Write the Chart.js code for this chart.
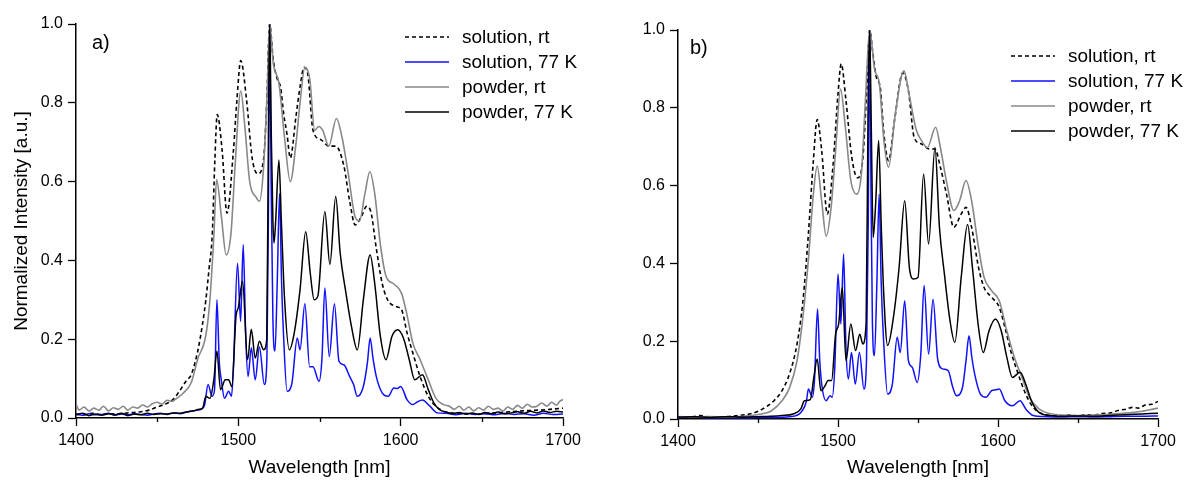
<!DOCTYPE html>
<html>
<head>
<meta charset="utf-8">
<script src="https://cdn.jsdelivr.net/npm/chart.js"></script>
<style>
  body { margin: 0; background: #fff; }
  .row { display: flex; width: 1195px; height: 483px; }
  .box { position: relative; height: 483px; }
</style>
</head>
<body>
<div class="row">
  <div class="box" style="width:597px"><canvas id="chartA"></canvas></div>
  <div class="box" style="width:598px"><canvas id="chartB"></canvas></div>
</div>

<script>
// legend labels
const seriesNames = ['solution, rt', 'solution, 77 K', 'powder, rt', 'powder, 77 K'];
const xTicks = [1400, 1500, 1600, 1700];
const xMinorTicks = [1450, 1550, 1650];
const yTicks = [0, 0.2, 0.4, 0.6, 0.8, 1.0];

// panel a) -- [wavelength nm, normalized intensity]
const aSolutionRt = [[1400,0.01],[1405,0.008],[1410,0.012],[1415,0.009],[1420,0.011],[1425,0.01],[1430,0.012],[1435,0.014],[1440,0.016],[1445,0.02],[1450,0.028],[1455,0.035],[1460,0.048],[1464,0.07],[1468,0.095],[1471,0.11],[1475,0.17],[1478,0.24],[1480,0.30],[1482,0.38],[1484,0.47],[1485.5,0.65],[1487,0.77],[1490,0.68],[1493,0.52],[1497,0.68],[1499,0.80],[1501.5,0.907],[1505,0.81],[1508.5,0.66],[1512,0.62],[1515.5,0.655],[1517.5,0.8],[1519.3,1.0],[1521.5,0.91],[1524,0.86],[1526,0.84],[1528,0.77],[1530,0.72],[1532,0.66],[1535.5,0.765],[1538,0.84],[1540.5,0.89],[1542.7,0.875],[1546,0.73],[1551,0.706],[1555.7,0.69],[1560,0.69],[1565,0.64],[1568.6,0.55],[1572,0.49],[1575.7,0.51],[1579,0.537],[1581.6,0.524],[1585,0.43],[1588.7,0.34],[1592,0.30],[1597,0.283],[1600.5,0.275],[1604,0.215],[1607.5,0.165],[1612,0.105],[1617,0.055],[1621.7,0.03],[1628,0.015],[1635,0.012],[1645,0.01],[1655,0.012],[1665,0.015],[1675,0.018],[1685,0.02],[1692,0.022],[1700,0.025]];
const aSolution77K = [[1400,0.01],[1404,0.007],[1408,0.011],[1412,0.008],[1416,0.009],[1420,0.012],[1424,0.007],[1428,0.01],[1432,0.008],[1436,0.011],[1440,0.009],[1444,0.007],[1448,0.01],[1452,0.012],[1456,0.009],[1460,0.013],[1464,0.011],[1468,0.015],[1472,0.018],[1475,0.02],[1479,0.03],[1481.4,0.085],[1483.7,0.055],[1485.3,0.07],[1486.8,0.30],[1488.3,0.14],[1489.5,0.097],[1491.5,0.05],[1494,0.068],[1495.8,0.055],[1497,0.13],[1499.5,0.393],[1501.4,0.245],[1503,0.44],[1504.6,0.2],[1506,0.105],[1508,0.178],[1510.4,0.097],[1513,0.18],[1516,0.085],[1517.6,0.15],[1518.5,0.5],[1519.3,1.0],[1520.2,0.6],[1521.3,0.25],[1522.6,0.17],[1524,0.35],[1525.4,0.57],[1526.6,0.35],[1527.8,0.215],[1530,0.068],[1533,0.088],[1536.3,0.203],[1538,0.173],[1541,0.29],[1543.9,0.13],[1546,0.13],[1549.7,0.093],[1551.5,0.15],[1553.3,0.33],[1556,0.156],[1559.2,0.29],[1562,0.144],[1565,0.135],[1568.6,0.105],[1571,0.085],[1573.3,0.055],[1577,0.08],[1579.5,0.14],[1581.2,0.203],[1583,0.15],[1585,0.105],[1588.7,0.063],[1592.3,0.055],[1595.8,0.076],[1598,0.075],[1600,0.08],[1604,0.046],[1607.5,0.034],[1610,0.04],[1613.4,0.046],[1618,0.03],[1622.7,0.013],[1628,0.012],[1634,0.008],[1640,0.012],[1646,0.009],[1652,0.011],[1658,0.008],[1664,0.012],[1670,0.009],[1676,0.011],[1682,0.007],[1688,0.012],[1694,0.009],[1700,0.01]];
const aPowderRt = [[1400,0.035],[1402,0.02],[1405,0.028],[1408,0.018],[1411,0.025],[1414,0.02],[1417,0.03],[1420,0.018],[1423,0.026],[1426,0.022],[1429,0.03],[1432,0.02],[1435,0.028],[1438,0.025],[1441,0.033],[1444,0.028],[1447,0.036],[1450,0.04],[1453,0.035],[1456,0.045],[1459,0.042],[1462,0.05],[1466,0.063],[1471,0.09],[1475,0.15],[1480,0.21],[1482.5,0.30],[1485,0.47],[1486.6,0.605],[1489.6,0.51],[1492.5,0.414],[1495.5,0.47],[1498,0.64],[1501.5,0.83],[1504,0.74],[1507,0.60],[1511,0.56],[1513,0.55],[1515.6,0.64],[1518,0.85],[1519.3,1.0],[1521.5,0.9],[1525,0.85],[1528.5,0.71],[1532,0.60],[1535.6,0.70],[1538,0.80],[1541,0.89],[1544,0.86],[1547,0.73],[1549.5,0.74],[1552,0.73],[1555.7,0.69],[1560.4,0.76],[1564,0.71],[1567.7,0.62],[1572,0.51],[1574.6,0.50],[1578,0.57],[1581,0.625],[1584,0.57],[1587.5,0.44],[1591,0.36],[1595.8,0.34],[1600.5,0.317],[1604,0.26],[1607.5,0.19],[1612,0.148],[1617,0.097],[1621.7,0.05],[1626.4,0.034],[1630,0.03],[1633,0.022],[1636,0.03],[1639,0.02],[1642,0.028],[1645,0.018],[1648,0.026],[1651,0.02],[1654,0.03],[1657,0.022],[1660,0.025],[1663,0.018],[1666,0.028],[1669,0.022],[1672,0.032],[1675,0.025],[1678,0.035],[1681,0.028],[1684,0.03],[1687,0.038],[1690,0.03],[1693,0.04],[1696,0.033],[1698,0.042],[1700,0.047]];
const aPowder77K = [[1400,0.008],[1404,0.012],[1408,0.006],[1412,0.01],[1416,0.007],[1420,0.011],[1424,0.008],[1428,0.012],[1432,0.006],[1436,0.01],[1440,0.008],[1444,0.012],[1448,0.009],[1452,0.011],[1456,0.01],[1460,0.013],[1464,0.012],[1468,0.015],[1472,0.018],[1476,0.022],[1478,0.025],[1480,0.055],[1482.5,0.05],[1485,0.1],[1486.8,0.17],[1489,0.072],[1492,0.097],[1494,0.097],[1496,0.08],[1498.6,0.26],[1500,0.28],[1502.6,0.347],[1505.7,0.148],[1508,0.225],[1510.4,0.152],[1513,0.195],[1515.6,0.173],[1517.5,0.2],[1518.6,0.75],[1519.3,1.0],[1520.3,0.72],[1521.3,0.5],[1522,0.444],[1523,0.5],[1525,0.655],[1526.5,0.5],[1528.5,0.30],[1531.4,0.173],[1534.4,0.215],[1538,0.325],[1541.5,0.473],[1544.3,0.368],[1546.7,0.30],[1549,0.31],[1553.3,0.524],[1556.4,0.39],[1560,0.562],[1562.7,0.42],[1566.3,0.317],[1569.8,0.23],[1573.3,0.173],[1577,0.30],[1581.2,0.414],[1584,0.342],[1587.5,0.207],[1591,0.148],[1594.6,0.207],[1598.2,0.224],[1601.7,0.203],[1605.3,0.148],[1608.7,0.097],[1613.4,0.11],[1617,0.072],[1620.5,0.038],[1624,0.021],[1628,0.015],[1632,0.011],[1636,0.014],[1640,0.01],[1644,0.013],[1648,0.009],[1652,0.014],[1656,0.011],[1660,0.015],[1664,0.01],[1668,0.013],[1672,0.016],[1676,0.012],[1680,0.017],[1684,0.013],[1688,0.018],[1692,0.014],[1696,0.017],[1700,0.015]];

// panel b)
const bSolutionRt = [[1400,0.005],[1410,0.006],[1414,0.009],[1420,0.005],[1430,0.006],[1440,0.01],[1446,0.014],[1453,0.026],[1460,0.047],[1465,0.073],[1469.7,0.116],[1474.4,0.193],[1478,0.30],[1481.5,0.476],[1484.6,0.664],[1487,0.77],[1489.8,0.69],[1493.3,0.527],[1496.8,0.647],[1500,0.835],[1502,0.913],[1505,0.818],[1508.6,0.673],[1512.2,0.62],[1515.3,0.66],[1518,0.85],[1519.8,1.0],[1521.6,0.947],[1524,0.878],[1526.4,0.853],[1528.7,0.733],[1531.6,0.664],[1535.3,0.767],[1540.5,0.89],[1544,0.844],[1547.6,0.724],[1552.3,0.707],[1557,0.694],[1560.6,0.694],[1564,0.647],[1567.7,0.58],[1572.4,0.493],[1577,0.527],[1580,0.544],[1583.5,0.493],[1587.8,0.39],[1591.3,0.338],[1596,0.313],[1600.8,0.287],[1604.3,0.236],[1607.9,0.176],[1612.6,0.116],[1617.3,0.064],[1622,0.03],[1628,0.013],[1635,0.009],[1640,0.008],[1645,0.01],[1650,0.008],[1655,0.011],[1660,0.01],[1665,0.014],[1670,0.015],[1675,0.022],[1680,0.025],[1684,0.03],[1688,0.028],[1692,0.036],[1696,0.038],[1700,0.045]];
const bSolution77K = [[1400,0.004],[1410,0.005],[1420,0.003],[1430,0.004],[1440,0.003],[1450,0.004],[1460,0.004],[1469.7,0.006],[1476.8,0.017],[1480.3,0.047],[1481.5,0.077],[1483.9,0.056],[1485.3,0.1],[1487.2,0.283],[1488.6,0.15],[1489.8,0.09],[1492.6,0.047],[1495,0.06],[1496.4,0.056],[1498,0.133],[1500,0.373],[1501.8,0.244],[1503.5,0.424],[1505,0.18],[1506.5,0.103],[1508.4,0.171],[1510.8,0.09],[1513.4,0.171],[1516.2,0.077],[1517.8,0.15],[1518.9,0.5],[1519.8,1.0],[1520.6,0.6],[1521.5,0.25],[1522.8,0.163],[1524.3,0.35],[1525.7,0.578],[1527,0.35],[1528.3,0.218],[1531,0.064],[1534,0.09],[1537,0.21],[1538.9,0.171],[1541.7,0.304],[1544,0.15],[1546.4,0.133],[1549.5,0.094],[1551.8,0.17],[1553.8,0.343],[1556.6,0.167],[1559.4,0.308],[1562.3,0.154],[1565.3,0.129],[1568.9,0.124],[1571.5,0.085],[1574,0.06],[1577.8,0.081],[1580,0.15],[1581.9,0.214],[1583.6,0.16],[1585.4,0.116],[1589,0.064],[1592.5,0.056],[1596,0.073],[1598.5,0.075],[1600.8,0.077],[1604.3,0.047],[1609,0.034],[1613.8,0.047],[1617.3,0.026],[1622,0.009],[1630,0.006],[1640,0.005],[1650,0.006],[1660,0.005],[1670,0.006],[1680,0.007],[1690,0.007],[1700,0.008]];
const bPowderRt = [[1400,0.006],[1410,0.005],[1420,0.006],[1430,0.005],[1440,0.007],[1446,0.009],[1452,0.013],[1458,0.02],[1465,0.047],[1469.7,0.08],[1474.4,0.15],[1478,0.26],[1481.5,0.41],[1484.6,0.578],[1487,0.65],[1489.8,0.56],[1492.6,0.47],[1495.7,0.544],[1498.5,0.69],[1501.6,0.848],[1504.6,0.75],[1508,0.613],[1511.7,0.578],[1514.6,0.63],[1516.9,0.8],[1519.8,1.0],[1522.8,0.9],[1525.9,0.86],[1528.7,0.715],[1531.6,0.647],[1535.8,0.784],[1541.2,0.895],[1544.8,0.827],[1548.8,0.745],[1552.3,0.715],[1555.9,0.698],[1561,0.75],[1564,0.698],[1567.7,0.613],[1572.4,0.536],[1576,0.561],[1580,0.613],[1583.5,0.561],[1587.8,0.441],[1591.3,0.364],[1596,0.33],[1600.8,0.304],[1605.5,0.227],[1610.2,0.159],[1615,0.107],[1619.7,0.056],[1625.6,0.026],[1632,0.014],[1640,0.01],[1650,0.009],[1660,0.01],[1670,0.012],[1680,0.015],[1690,0.02],[1695,0.024],[1700,0.028]];
const bPowder77K = [[1400,0.005],[1410,0.006],[1420,0.004],[1430,0.006],[1440,0.005],[1450,0.006],[1458,0.007],[1465,0.009],[1472,0.013],[1476.8,0.026],[1479,0.047],[1482.7,0.05],[1485,0.11],[1487,0.154],[1489.3,0.073],[1492,0.086],[1493.8,0.099],[1496,0.099],[1498.5,0.218],[1500.4,0.244],[1502.7,0.338],[1505,0.15],[1508,0.244],[1511,0.176],[1513.6,0.218],[1515.5,0.193],[1517.6,0.25],[1518.8,0.8],[1519.8,1.0],[1520.8,0.75],[1522,0.467],[1523.5,0.55],[1525.4,0.716],[1527,0.5],[1528.3,0.347],[1531,0.189],[1534.6,0.26],[1538.2,0.39],[1541.7,0.561],[1544.6,0.39],[1547.2,0.36],[1550,0.364],[1553.5,0.63],[1556.6,0.45],[1560.6,0.698],[1563.4,0.493],[1566.5,0.373],[1570,0.253],[1573,0.197],[1577,0.364],[1581,0.50],[1584,0.39],[1587.8,0.236],[1590.8,0.171],[1594.4,0.227],[1598.4,0.257],[1602,0.227],[1605.5,0.159],[1609,0.107],[1613.8,0.12],[1617.3,0.09],[1620.8,0.047],[1625.6,0.017],[1632,0.009],[1640,0.007],[1650,0.008],[1660,0.007],[1670,0.009],[1680,0.011],[1690,0.013],[1700,0.015]];

const FONT = '"Liberation Sans", Arial, Helvetica, sans-serif';
const lineStyles = [
  { color: '#000000', width: 1.6, dash: [4, 3] },
  { color: '#1010ff', width: 1.5, dash: [] },
  { color: '#888888', width: 1.6, dash: [] },
  { color: '#000000', width: 1.5, dash: [] }
];

// legend, panel letter and short minor ticks drawn on top
const panelDecor = {
  id: 'panelDecor',
  afterDraw(chart, args, opts) {
    const ctx = chart.ctx;
    const xs = chart.scales.x;
    const bottom = chart.chartArea.bottom;
    ctx.save();
    ctx.strokeStyle = '#000';
    ctx.lineWidth = 1.3;
    xMinorTicks.forEach(v => {
      const px = Math.round(xs.getPixelForValue(v)) + 0.5;
      ctx.beginPath();
      ctx.moveTo(px, bottom);
      ctx.lineTo(px, bottom + 4);
      ctx.stroke();
    });
    ctx.fillStyle = '#000';
    ctx.textBaseline = 'middle';
    ctx.font = '20px ' + FONT;
    ctx.fillText(opts.letter, opts.letterX, opts.letterY);
    ctx.font = '19px ' + FONT;
    chart.data.datasets.forEach((ds, i) => {
      const y = opts.legendY + i * 25;
      ctx.strokeStyle = ds.borderColor;
      ctx.lineWidth = ds.borderWidth;
      ctx.setLineDash(ds.borderDash || []);
      ctx.beginPath();
      ctx.moveTo(opts.legendX, y);
      ctx.lineTo(opts.legendX + 44, y);
      ctx.stroke();
      ctx.setLineDash([]);
      ctx.fillText(ds.label, opts.legendX + 57, y + 1);
    });
    ctx.restore();
  }
};

function makeConfig(series, p) {
  return {
    type: 'line',
    data: {
      datasets: series.map((pts, i) => ({
        label: seriesNames[i],
        data: pts.map(q => ({ x: q[0], y: q[1] })),
        borderColor: lineStyles[i].color,
        borderWidth: lineStyles[i].width,
        borderDash: lineStyles[i].dash,
        pointRadius: 0,
        fill: false,
        cubicInterpolationMode: 'monotone',
        order: 3 - i
      }))
    },
    options: {
      responsive: true,
      maintainAspectRatio: false,
      animation: false,
      layout: { padding: { left: 0, right: p.padRight, top: p.padTop, bottom: 0 } },
      plugins: {
        legend: { display: false },
        tooltip: { enabled: false },
        panelDecor: p.decor
      },
      scales: {
        x: {
          type: 'linear',
          min: 1400,
          max: 1700,
          afterBuildTicks: s => { s.ticks = xTicks.map(v => ({ value: v })); },
          afterFit: s => { s.height = p.xHeight; },
          ticks: { color: '#000', font: { family: FONT, size: 16 }, padding: 5, maxRotation: 0, callback: v => String(v) },
          grid: { drawOnChartArea: false, drawTicks: true, tickLength: 8, tickColor: '#000', tickWidth: 1.3 },
          border: { display: true, color: '#000', width: 1.5 },
          title: { display: true, text: 'Wavelength [nm]', color: '#000', font: { family: FONT, size: 19 }, padding: { top: 0, bottom: 4 } }
        },
        y: {
          min: 0,
          max: 1,
          afterBuildTicks: s => { s.ticks = yTicks.map(v => ({ value: v })); },
          afterFit: s => { s.width = p.yWidth; },
          ticks: { color: '#000', font: { family: FONT, size: 16 }, padding: 5, callback: v => v.toFixed(1) },
          grid: { drawOnChartArea: false, drawTicks: true, tickLength: 8, tickColor: '#000', tickWidth: 1.3 },
          border: { display: true, color: '#000', width: 1.5 },
          title: { display: p.yTitle, text: 'Normalized Intensity [a.u.]', color: '#000', font: { family: FONT, size: 19 }, padding: { top: 10, bottom: 0 } }
        }
      }
    },
    plugins: [panelDecor]
  };
}

const chartA = new Chart(document.getElementById('chartA'), makeConfig(
  [aSolutionRt, aSolution77K, aPowderRt, aPowder77K],
  { padRight: 34, padTop: 24, xHeight: 65, yWidth: 76, yTitle: true,
    decor: { letter: 'a)', letterX: 92, letterY: 43, legendX: 405, legendY: 37 } }
));

const chartB = new Chart(document.getElementById('chartB'), makeConfig(
  [bSolutionRt, bSolution77K, bPowderRt, bPowder77K],
  { padRight: 37, padTop: 30, xHeight: 64, yWidth: 81, yTitle: false,
    decor: { letter: 'b)', letterX: 93, letterY: 48, legendX: 414, legendY: 56 } }
));
</script>
</body>
</html>
